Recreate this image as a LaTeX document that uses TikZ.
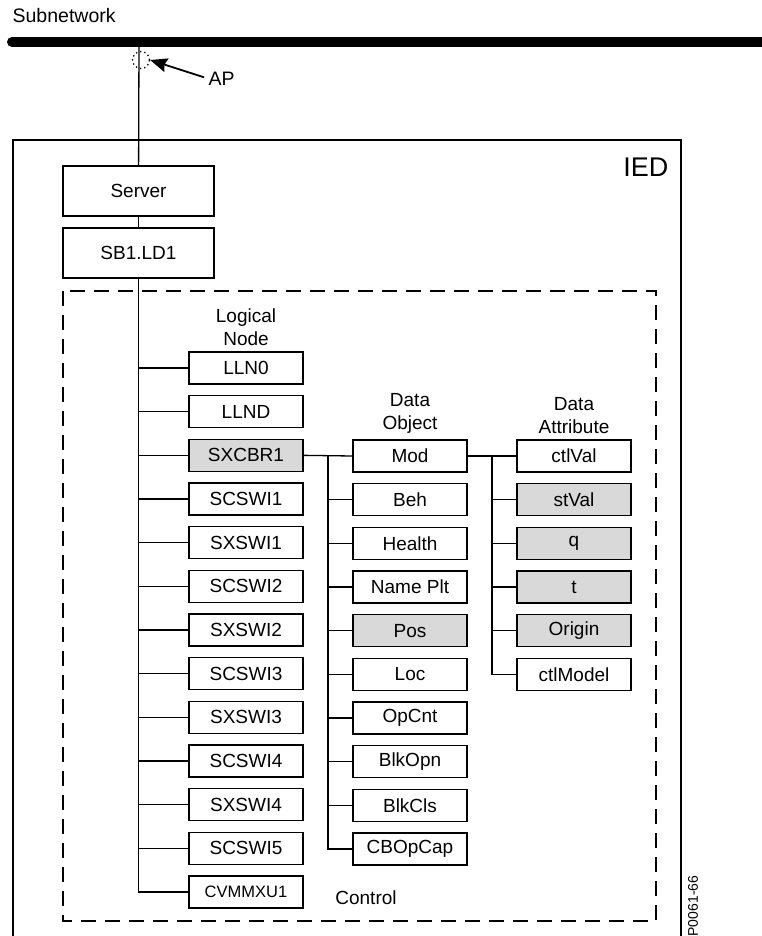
\documentclass[tikz,border=0pt]{standalone}
\usepackage{fontspec}
\setmainfont{Liberation Sans}
\usetikzlibrary{positioning,arrows.meta}
\definecolor{lngray}{HTML}{D9D9D9}

\begin{document}
\begin{tikzpicture}[x=1pt,y=-1pt,line width=1.3pt,
    box/.style={draw,minimum width=114pt,minimum height=32pt,inner sep=0pt,font=\fontsize{19}{22}\selectfont},
    title/.style={align=center,inner sep=0pt,font=\fontsize{19}{23}\selectfont}]

\useasboundingbox (0,0) rectangle (761,936);

% subnetwork and access point
\node[anchor=base west,inner sep=0pt,font=\fontsize{19.5}{22}\selectfont] (subnet) at (12,23) {Subnetwork};
\draw[line width=10pt,line cap=round] (12,42) -- (780,42);
\coordinate (ap) at (139,42);
\node[circle,draw,dash pattern=on 1.3pt off 3pt,minimum size=17pt,inner sep=0pt] (apring) at (141,60) {};
\node[anchor=base west,inner sep=0pt,font=\fontsize{19.5}{22}\selectfont] (aplabel) at (208,86) {AP};
\draw[-{Stealth[length=17pt,width=14pt,inset=2pt]},line width=1.8pt] ([xshift=-4pt,yshift=2pt]aplabel.west) -- (apring.east);

% IED
\draw (13,950) -- (13,140) -- (681,140) -- (681,950);
\node[anchor=base east,inner sep=0pt,font=\fontsize{27}{30}\selectfont] (ied) at (669,177) {IED};

\node[box,minimum width=151pt,minimum height=50pt] (server) at (138.5,191) {Server};
\node[box,minimum width=151pt,minimum height=50pt] (sb) at (138.5,253) {SB1.LD1};
\draw (ap) -- (server);
\draw (server) -- (sb);

\draw[dash pattern=on 15pt off 9pt,line width=1.5pt] (63,291) rectangle (656,921);

% logical nodes
\foreach \nm/\lbl/\shade [count=\i from 0] in {lln0/LLN0/white, llnd/LLND/white, sxcbr1/SXCBR1/lngray,
    scswi1/SCSWI1/white, sxswi1/SXSWI1/white, scswi2/SCSWI2/white, sxswi2/SXSWI2/white,
    scswi3/SCSWI3/white, sxswi3/SXSWI3/white, scswi4/SCSWI4/white, sxswi4/SXSWI4/white,
    scswi5/SCSWI5/white} {
    \node[box,fill=\shade] (\nm) at (246,{368+43.67*\i}) {\lbl};
    \draw (sb.south |- \nm) -- (\nm.west);
}
\node[box,font=\fontsize{16.5}{20}\selectfont] (cvmmxu1) at (246,892) {CVMMXU1};
\draw (sb.south) |- (cvmmxu1.west);
\node[title,above=5pt of lln0] (lntitle) {Logical\\Node};

% data objects
\foreach \nm/\lbl/\shade [count=\i from 0] in {mod/Mod/white, beh/Beh/white, health/Health/white,
    nameplt/Name Plt/white, pos/Pos/lngray, loc/Loc/white, opcnt/OpCnt/white,
    blkopn/BlkOpn/white, blkcls/BlkCls/white, cbopcap/CBOpCap/white} {
    \node[box,fill=\shade] (\nm) at (410,{456+43.67*\i}) {\lbl};
}
\coordinate (dobus) at (328,456);
\draw (sxcbr1.east) -- (mod.west);
\draw (dobus) |- (cbopcap.west);
\foreach \nm in {beh,health,nameplt,pos,loc,opcnt,blkopn,blkcls}
    \draw (dobus |- \nm) -- (\nm.west);
\node[title,above=5pt of mod] (dotitle) {Data\\Object};

% data attributes
\foreach \nm/\lbl/\shade [count=\i from 0] in {ctlval/ctlVal/white, stval/stVal/lngray, q/q/lngray,
    t/t/lngray, origin/Origin/lngray, ctlmodel/ctlModel/white} {
    \node[box,fill=\shade] (\nm) at (574,{456+43.67*\i}) {\lbl};
}
\coordinate (dabus) at (492,456);
\draw (mod.east) -- (ctlval.west);
\draw (dabus) |- (ctlmodel.west);
\foreach \nm in {stval,q,t,origin}
    \draw (dabus |- \nm) -- (\nm.west);
\node[title,above=5pt of ctlval] (datitle) {Data\\Attribute};

\node[font=\fontsize{19}{22}\selectfont] (control) at (366,898) {Control};
\node[rotate=90,anchor=west,inner sep=0pt,font=\fontsize{14}{16}\selectfont] (figid) at (693,937) {P0061-66};

\end{tikzpicture}
\end{document}
